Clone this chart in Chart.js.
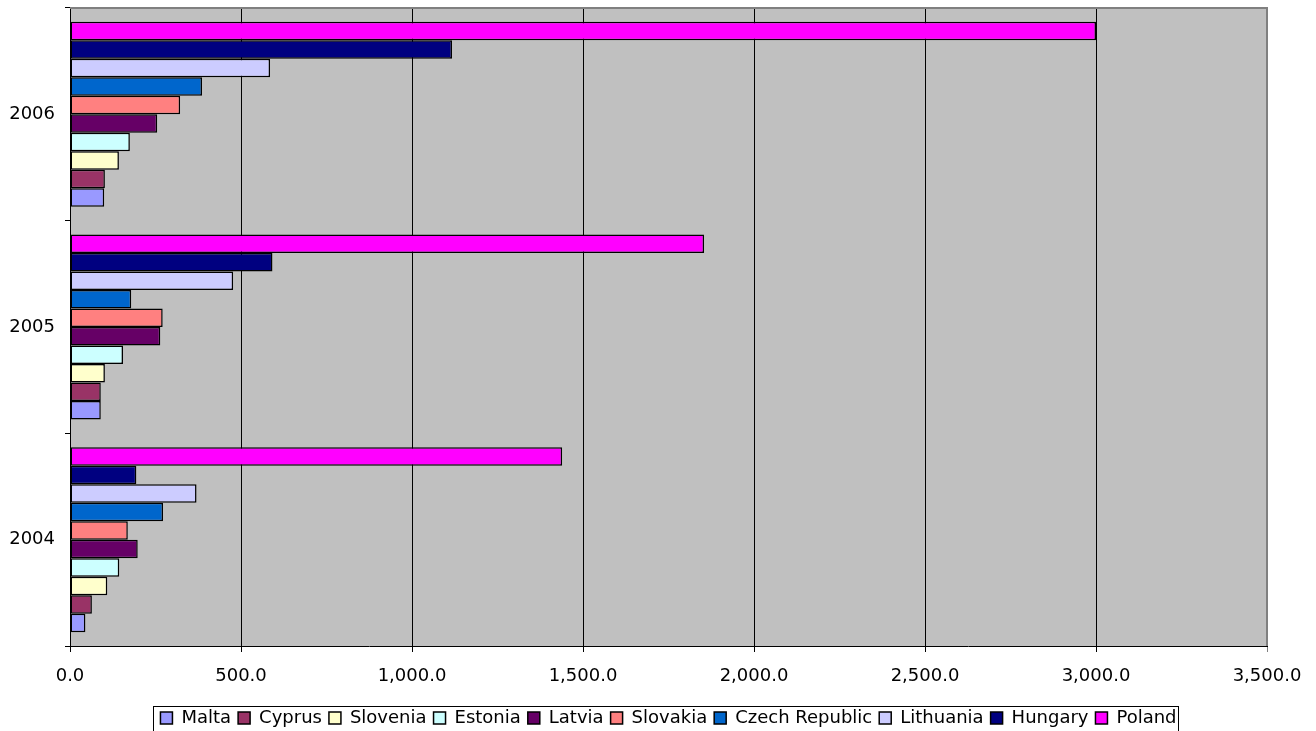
<!DOCTYPE html>
<html>
<head>
<meta charset="utf-8">
<script src="https://cdn.jsdelivr.net/npm/chart.js@4/dist/chart.umd.min.js"></script>
<style>
  html, body { margin: 0; padding: 0; background: #fff; }
  #wrap { width: 1316px; height: 731px; }
</style>
</head>
<body>
<div id="wrap"><canvas id="chart"></canvas></div>
<script>
// categories (2004 drawn at the bottom, as in the original)
const years = ['2004', '2005', '2006'];

const countries = ['Malta', 'Cyprus', 'Slovenia', 'Estonia', 'Latvia',
                   'Slovakia', 'Czech Republic', 'Lithuania', 'Hungary', 'Poland'];
const colors = ['#9999FF', '#993366', '#FFFFCC', '#CCFFFF', '#660066',
                '#FF8080', '#0066CC', '#CCCCFF', '#000080', '#FF00FF'];

// values per country, [2004, 2005, 2006]
const malta      = [45, 90, 100];
const cyprus     = [64, 90, 102];
const slovenia   = [109, 102, 143];
const estonia    = [144, 155, 175];
const latvia     = [198, 264, 255];
const slovakia   = [169, 271, 322];
const czech      = [272, 179, 386];
const lithuania  = [370, 477, 585];
const hungary    = [194, 592, 1117];
const poland     = [1439, 1854, 3000];

const series = [malta, cyprus, slovenia, estonia, latvia, slovakia, czech, lithuania, hungary, poland];

const xTicks = { min: 0, max: 3500, step: 500 };

const fmt = v => v.toLocaleString('en-US', {minimumFractionDigits: 1, maximumFractionDigits: 1});

// gray plot background + gray top/right frame + legend box
const plotDeco = {
    id: 'plotDeco',
    afterLayout(chart) {
        // legend is centred under the plot area, not the whole canvas
        const lg = chart.legend;
        const shift = chart.chartArea.left / 2;
        lg.left += shift;
        lg.right += shift;
    },
    beforeDraw(chart) {
        const a = chart.chartArea, ctx = chart.ctx;
        ctx.save();
        ctx.fillStyle = '#C0C0C0';
        ctx.fillRect(a.left, a.top, a.right - a.left, a.bottom - a.top);
        ctx.restore();
    },
    afterDraw(chart) {
        const a = chart.chartArea, ctx = chart.ctx;
        ctx.save();
        ctx.strokeStyle = '#808080';
        ctx.lineWidth = 2;
        ctx.beginPath();
        ctx.moveTo(a.left, a.top);
        ctx.lineTo(a.right, a.top);
        ctx.lineTo(a.right, a.bottom);
        ctx.stroke();

        // frame round the legend row
        const lg = chart.legend;
        const p = lg.options.labels.padding;
        const w = lg.lineWidths[0];
        const x0 = (lg.left + p + lg.right - w) / 2;
        const cy = (lg.top + lg.bottom) / 2;
        ctx.strokeStyle = '#000';
        ctx.lineWidth = 1;
        ctx.strokeRect(Math.round(x0 - 7) + 0.5, Math.round(cy - 14) + 0.5, Math.round(w - p + 9), 27);
        ctx.restore();
    }
};

// datasets go in reverse so Poland sits on top of each group; legend is reversed back
const order = countries.map((c, i) => i).reverse();

new Chart(document.getElementById('chart'), {
    type: 'bar',
    data: {
        labels: years,
        datasets: order.map(i => ({
            label: countries[i],
            data: series[i],
            backgroundColor: colors[i],
            borderColor: '#000',
            borderWidth: 1.5,
            borderSkipped: false,
            categoryPercentage: 0.87,
            barPercentage: 1.0
        }))
    },
    options: {
        indexAxis: 'y',
        responsive: true,
        maintainAspectRatio: false,
        animation: false,
        layout: { padding: { top: 8, right: 49, left: 0, bottom: -6 } },
        plugins: {
            tooltip: { enabled: false },
            legend: {
                position: 'bottom',
                reverse: true,
                labels: {
                    color: '#000',
                    boxWidth: 12,
                    boxHeight: 12,
                    padding: 7,
                    font: { family: 'DejaVu Sans', size: 18 }
                }
            }
        },
        scales: {
            x: {
                min: xTicks.min,
                max: xTicks.max,
                ticks: {
                    stepSize: xTicks.step,
                    color: '#000',
                    padding: 14,
                    maxRotation: 0,
                    font: { family: 'DejaVu Sans', size: 18 },
                    callback: v => fmt(v)
                },
                grid: {
                    color: ctx => ctx.tick && ctx.tick.value === xTicks.max ? '#808080' : '#000',
                    lineWidth: 1,
                    tickLength: 6
                },
                border: { color: '#000', width: 1 },
                afterFit: s => { s.height = 56; }
            },
            y: {
                reverse: true,
                ticks: {
                    color: '#000',
                    padding: 10,
                    font: { family: 'DejaVu Sans', size: 18 }
                },
                grid: {
                    offset: true,
                    drawOnChartArea: false,
                    color: '#000',
                    tickLength: 5
                },
                border: { color: '#000', width: 1 },
                afterFit: s => { s.width = 70; s.paddingTop = 0; s.paddingBottom = 0; }
            }
        }
    },
    plugins: [plotDeco]
});
</script>
</body>
</html>
